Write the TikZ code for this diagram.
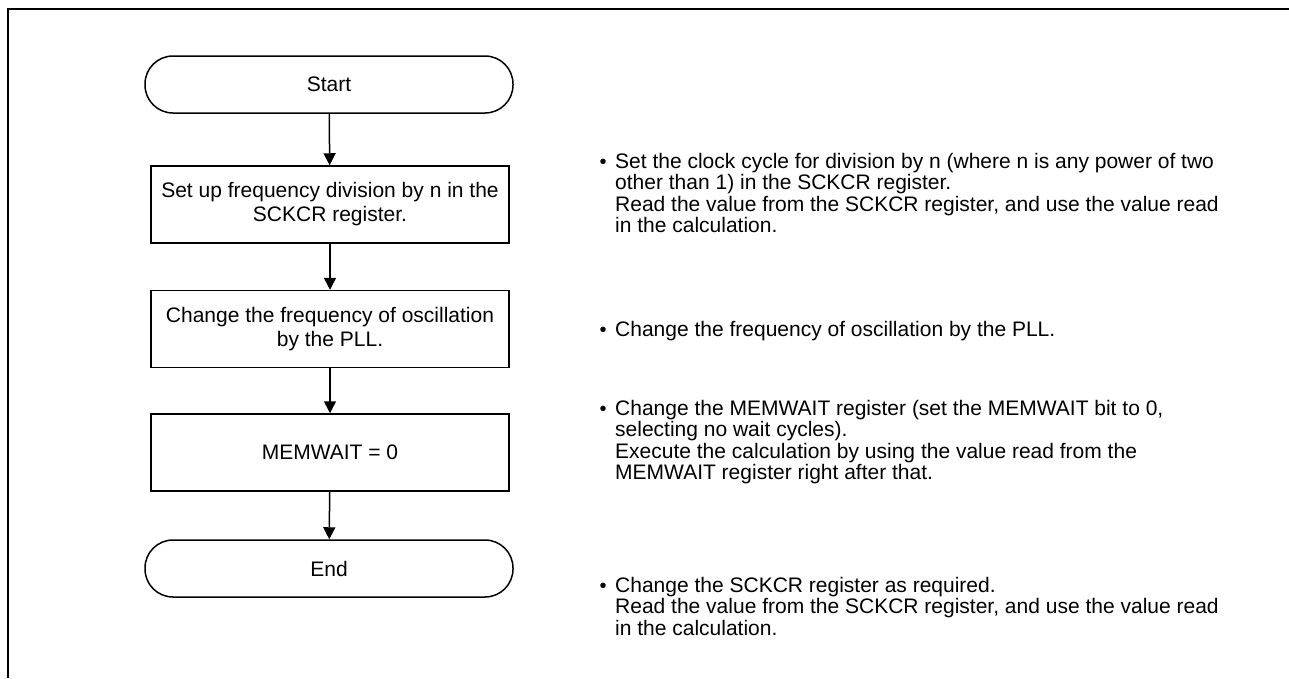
\documentclass[tikz,border=0pt]{standalone}
\usepackage{fontspec}
\setmainfont{Liberation Sans}
\usetikzlibrary{arrows.meta}
\newcommand{\tline}[1]{\begin{tabular}[t]{@{}l@{}}#1\end{tabular}}
\begin{document}
\begin{tikzpicture}[x=1pt,y=-1pt,
  term/.style={draw,line width=1.5pt,rounded corners=28pt,minimum width=368pt,minimum height=57pt,inner sep=0pt,font=\fontsize{21}{23}\selectfont},
  proc/.style={draw,line width=1.5pt,minimum width=358pt,minimum height=77pt,inner sep=0pt,align=center,font=\fontsize{21}{24}\selectfont},
  flow/.style={line width=1.5pt,-{Triangle[length=12pt,width=12pt]}},
  note/.style={anchor=base west,inner sep=0pt,font=\fontsize{21}{21}\selectfont},
  bul/.style={anchor=base,inner sep=0pt,font=\fontsize{20}{20}\selectfont}]
\useasboundingbox (0,0) rectangle (1289,678);
\coordinate (ftl) at (8,9);
\coordinate (ftr) at (1289,9);
\coordinate (fbl) at (8,678);
\draw[line width=2.6pt] (fbl) -- (ftl) -- (ftr);
\node[term] (start) at (329,84.5) {Start};
\node[proc] (p1) at (330,204.5) {Set up frequency division by n in the\\SCKCR register.};
\node[proc] (p2) at (330,329) {Change the frequency of oscillation\\by the PLL.};
\node[proc] (p3) at (330,452.5) {MEMWAIT = 0};
\node[term] (end) at (329,568.5) {End};
\draw[flow] (start) -- (p1);
\draw[flow] (p1) -- (p2);
\draw[flow] (p2) -- (p3);
\draw[flow] (p3) -- (end);
\node[bul] (b1) at (603,168) {\textbullet};
\node[note] (n1) at (615,168) {\tline{Set the clock cycle for division by n (where n is any power of two\\other than 1) in the SCKCR register.\\Read the value from the SCKCR register, and use the value read\\in the calculation.}};
\node[bul] (b2) at (603,336) {\textbullet};
\node[note] (n2) at (615,336) {\tline{Change the frequency of oscillation by the PLL.}};
\node[bul] (b3) at (603,415) {\textbullet};
\node[note] (n3) at (615,415) {\tline{Change the MEMWAIT register (set the MEMWAIT bit to 0,\\selecting no wait cycles).\\Execute the calculation by using the value read from the\\MEMWAIT register right after that.}};
\node[bul] (b4) at (603,592) {\textbullet};
\node[note] (n4) at (615,592) {\tline{Change the SCKCR register as required.\\Read the value from the SCKCR register, and use the value read\\in the calculation.}};
\end{tikzpicture}
\end{document}
